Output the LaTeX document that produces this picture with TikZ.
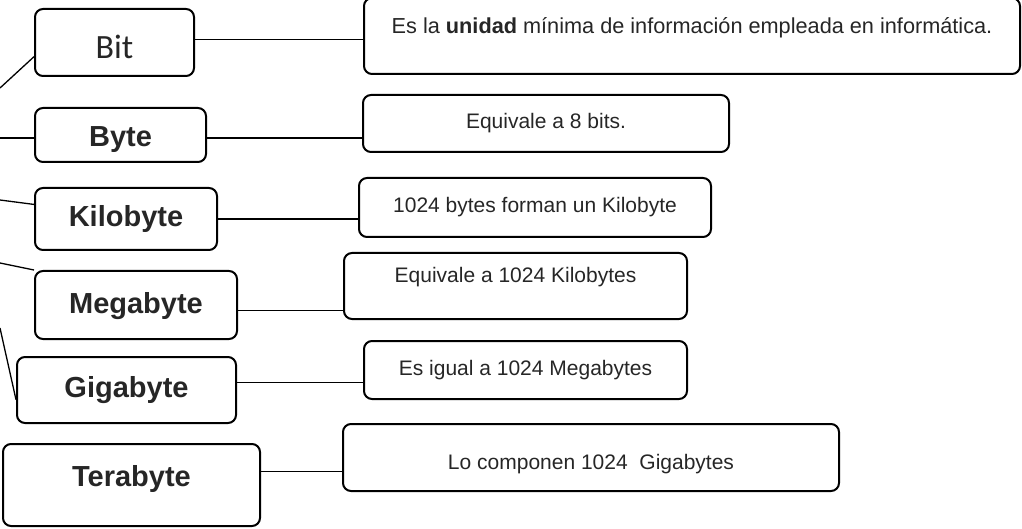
\documentclass[tikz,border=0pt]{standalone}
\usepackage{fontspec}
\setmainfont{Liberation Sans}
\newfontfamily\bitfont{Carlito}

\begin{document}
\begin{tikzpicture}[x=1pt, y=-1pt,
	unitbox/.style={draw, line width=2pt, rounded corners=8pt, inner sep=0pt, text=black!85,
		font=\fontsize{29}{31}\selectfont\bfseries, text depth=0pt},
	infobox/.style={draw, line width=2pt, rounded corners=8pt, inner sep=0pt, text=black!85,
		font=\fontsize{21}{24}\selectfont, text depth=0pt},
	link/.style={line width=1.3pt}]
	%%%%% START %%%%%
	\useasboundingbox (0, 0) rectangle (1022, 529);
	
	% units on the left
	\node[unitbox, font=\bitfont\fontsize{34}{36}\selectfont, minimum width=159pt, minimum height=67pt, text height=33pt] (bit) at (114.5, 42.5) {Bit};
	\node[unitbox, minimum width=171pt, minimum height=54pt, text height=24pt] (byte) at (120.5, 135) {Byte};
	\node[unitbox, minimum width=182pt, minimum height=62pt, text height=16pt] (kilo) at (126, 219) {Kilobyte};
	\node[unitbox, minimum width=202pt, minimum height=68pt, text height=16pt] (mega) at (136, 305) {Megabyte};
	\node[unitbox, minimum width=219pt, minimum height=66pt, text height=14pt] (giga) at (126.5, 390) {Gigabyte};
	\node[unitbox, minimum width=257pt, minimum height=82pt, text height=3pt] (tera) at (131.5, 485) {Terabyte};
	
	% what each one means
	\node[infobox, font=\fontsize{21.7}{24}\selectfont, minimum width=656pt, minimum height=76pt, text height=0pt, text depth=4pt] (bitinfo) at (692, 36) {Es la \textbf{unidad} mínima de información empleada en informática.};
	\node[infobox, minimum width=366pt, minimum height=57pt, text height=11pt] (byteinfo) at (546, 123.5) {Equivale a 8 bits.};
	\node[infobox, minimum width=352pt, minimum height=59pt, text height=11pt] (kiloinfo) at (535, 207.5) {1024 bytes forman un Kilobyte};
	\node[infobox, minimum width=343pt, minimum height=66pt, text height=0pt, text depth=8pt] (megainfo) at (515.5, 286) {Equivale a 1024 Kilobytes};
	\node[infobox, minimum width=323pt, minimum height=58pt, text height=10pt] (gigainfo) at (525.5, 370) {Es igual a 1024 Megabytes};
	\node[infobox, minimum width=496pt, minimum height=67pt, text height=23pt] (terainfo) at (591, 457.5) {Lo componen 1024 \ Gigabytes};
	
	% loose ends at the left border
	\coordinate (bitend) at (0, 88);
	\coordinate (byteend) at (0, 138);
	\coordinate (kiloend) at (0, 200);
	\coordinate (megaend) at (0, 263);
	\coordinate (gigaend) at (0, 328);
	
	\draw[link] (bitend) -- (bit.190);
	\draw[link] (byteend) -- (byteend -| byte.west);
	\draw[link] (kiloend) -- (kilo.171);
	\draw[link] (megaend) -- (mega.north west);
	\draw[link] (gigaend) -- (giga.185);
	
	\draw[link] (bit.2) -- (bit.2 -| bitinfo.west);
	\draw[link] (byte.358) -- (byte.358 -| byteinfo.west);
	\draw[link] (kilo.east) -- (kilo.east -| kiloinfo.west);
	\draw[link] (mega.357) -- (mega.357 -| megainfo.west);
	\draw[link] (giga.4) -- (giga.4 -| gigainfo.west);
	\draw[link] (tera.6) -- (tera.6 -| terainfo.west);
	%%%%% END %%%%%
\end{tikzpicture}
\end{document}
